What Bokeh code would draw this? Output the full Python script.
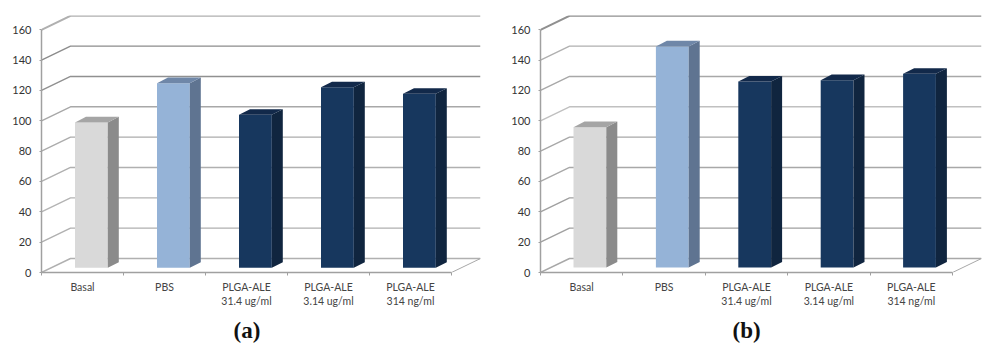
from bokeh.embed import file_html
from bokeh.resources import INLINE
from bokeh.plotting import figure
from bokeh.layouts import row
from bokeh.models import FixedTicker, Range1d, Title

categories = ["Basal", "PBS", "PLGA-ALE\n31.4 ug/ml", "PLGA-ALE\n3.14 ug/ml", "PLGA-ALE\n314 ng/ml"]
values_a = [95.8, 121.7, 100.9, 119.0, 114.7]
values_b = [92.5, 145.7, 122.6, 123.5, 127.7]
y_ticks = [0, 20, 40, 60, 80, 100, 120, 140, 160]
front_colors = ["#d9d9d9", "#95b3d7", "#17375e", "#17375e", "#17375e"]
side_colors = ["#8b8b8b", "#5f7491", "#10253f", "#10253f", "#10253f"]
top_colors = ["#a5a5a5", "#6f87a8", "#12294a", "#12294a", "#12294a"]
grid_a = ["#b0b0b0", "#b0b0b0", "#b4b4b4", "#b0b0b0", "#acacac", "#a8a8a8", "#909090", "#8c8c8c", "#b0b0b0"]
grid_b = ["#a8a8a8", "#a0a0a0", "#a0a0a0", "#a8a8a8", "#a8a8a8", "#c0c0c0", "#a8a8a8", "#b0b0b0", "#909090"]
grid_widths = [1.4, 1.4, 1.4, 1.4, 1.4, 1.4, 1.4, 1.4, 2.0]


def panel(values, caption, grid, width, left, right, top, frame_w, step, bar_off, bar_base, cap_off):
    frame_h = 257
    total_h = 346
    bottom = total_h - top - frame_h
    per_val = 242.7 / 160
    y_end = frame_h / per_val
    depth_x = 29 / step
    depth_y = 14 / per_val
    p = figure(width=width, height=total_h, frame_width=frame_w, frame_height=frame_h,
               min_border_left=left, min_border_right=right, min_border_top=top,
               min_border_bottom=bottom, output_backend="svg", toolbar_location=None,
               x_range=Range1d(0, 5 + depth_x), y_range=Range1d(0, y_end),
               outline_line_color=None)
    p.grid.visible = False

    xs, ys = [], []
    for v in y_ticks:
        xs.append([0, depth_x, 5 + depth_x])
        ys.append([v, v + depth_y, v + depth_y])
    p.multi_line(xs, ys, line_color=grid, line_width=grid_widths)
    p.line([5, 5 + depth_x], [0, depth_y], line_color="#a8a8a8", line_width=1)

    bar_w = 32.8 / step
    bar_dx = 11 / step
    bar_dy = 3.7
    for i, v in enumerate(values):
        x0 = i + bar_off / step
        x1 = x0 + bar_w
        y0 = bar_base
        y1 = bar_base + v
        p.quad(left=x0, right=x1, bottom=y0, top=y1, fill_color=front_colors[i], line_color=None)
        p.patch([x1, x1 + bar_dx, x1 + bar_dx, x1], [y0, y0 + bar_dy, y1 + bar_dy, y1],
                fill_color=side_colors[i], line_color=None)
        p.patch([x0, x1, x1 + bar_dx, x0 + bar_dx], [y1, y1, y1 + bar_dy, y1 + bar_dy],
                fill_color=top_colors[i], line_color=None)

    ya = p.yaxis[0]
    ya.ticker = FixedTicker(ticks=y_ticks)
    ya.bounds = (0, 160)
    ya.axis_line_color = "#a0a0a0"
    ya.axis_line_width = 1.5
    ya.major_tick_line_color = "#a0a0a0"
    ya.major_tick_out = 2
    ya.major_tick_in = 0
    ya.minor_tick_line_color = None
    ya.major_label_text_font = "Lato"
    ya.major_label_text_font_size = "11px"
    ya.major_label_text_color = "#333333"
    ya.major_label_standoff = 8

    xa = p.xaxis[0]
    xa.ticker = FixedTicker(ticks=[i + 0.5 for i in range(5)], minor_ticks=list(range(6)))
    xa.bounds = (0, 5)
    xa.major_label_overrides = {i + 0.5: c for i, c in enumerate(categories)}
    xa.axis_line_color = "#a0a0a0"
    xa.axis_line_width = 1.5
    xa.major_tick_line_color = None
    xa.major_tick_out = 0
    xa.major_tick_in = 0
    xa.minor_tick_line_color = "#a0a0a0"
    xa.minor_tick_out = 3
    xa.minor_tick_in = 0
    xa.major_label_text_font = "Lato"
    xa.major_label_text_font_size = "10.5px"
    xa.major_label_text_color = "#444444"
    xa.major_label_standoff = 5

    p.add_layout(Title(text=caption, align="left", offset=cap_off, standoff=12,
                       text_font="Liberation Serif", text_font_style="bold",
                       text_font_size="23px", text_color="#111111"), "below")
    return p


pa = panel(values_a, "(a)", grid_a, 500, 41, 20, 15, 439, 82.0, 33.5, 3.1, 192)
pb = panel(values_b, "(b)", grid_b, 492, 40, 11, 14, 441, 82.4, 33.0, 3.3, 192)
page = row(pa, pb, spacing=0)
open("out.html", "w").write(file_html(page, INLINE))
